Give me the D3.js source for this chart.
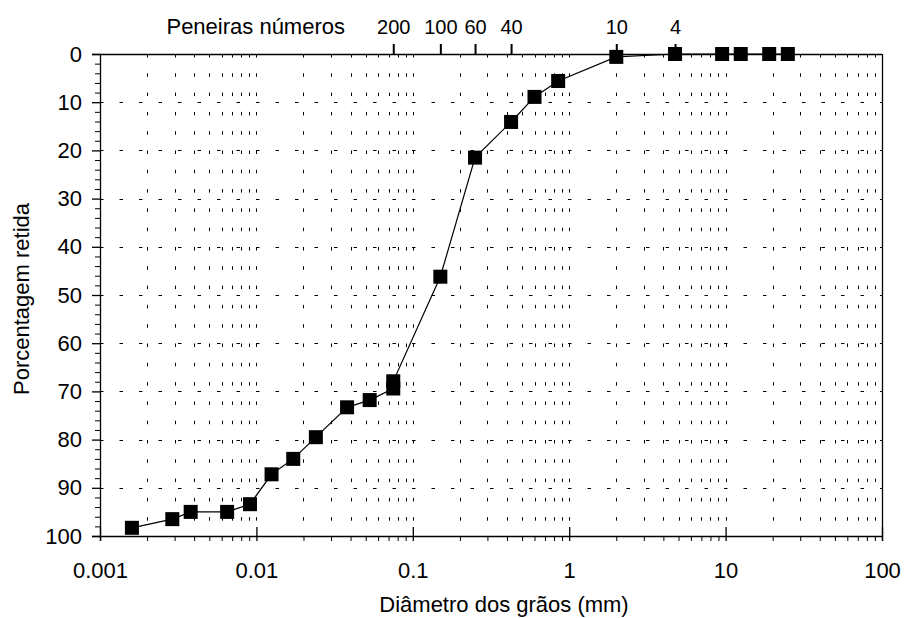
<!DOCTYPE html>
<html>
<head>
<meta charset="utf-8">
<script src="https://cdn.jsdelivr.net/npm/d3@7"></script>
<style>
  html, body { margin: 0; padding: 0; background: #fff; }
  svg { display: block; }
  text { font-family: "Liberation Sans", Arial, sans-serif; fill: #000; }
</style>
</head>
<body>
<svg id="chart" width="904" height="618"></svg>
<script>
// Grain diameter (mm) and percentage retained
const diameters = [0.0016, 0.0029, 0.0038, 0.0065, 0.0091, 0.0125, 0.0172, 0.024, 0.038, 0.053,
                   0.075, 0.075, 0.15, 0.25, 0.425, 0.6, 0.85, 2.0, 4.75, 9.5, 12.5, 19, 25];
const retained  = [98.3, 96.5, 95.0, 95.0, 93.4, 87.2, 84.0, 79.5, 73.3, 71.8,
                   69.4, 67.9, 46.2, 21.5, 14.1, 8.9, 5.6, 0.6, 0, 0, 0, 0, 0];

// Sieve numbers shown on the top axis, with their openings (mm)
const sieveNames    = ["200", "100", "60", "40", "10", "4"];
const sieveOpenings = [0.075, 0.15, 0.25, 0.425, 2.0, 4.75];

const xMajor = [0.001, 0.01, 0.1, 1, 10, 100];
const xTickLabels = ["0.001", "0.01", "0.1", "1", "10", "100"];
const yMajor = [0, 10, 20, 30, 40, 50, 60, 70, 80, 90, 100];

const xTitle = "Diâmetro dos grãos (mm)";
const yTitle = "Porcentagem retida";
const topTitle = "Peneiras números";

const pLeft = 100, pRight = 882, pTop = 54, pBottom = 536;
const fontSize = 22;
const sieveFontSize = 20;
const fontFam = "Liberation Sans, Arial, sans-serif";

const svg = d3.select("#chart");
const x = d3.scaleLog().domain([0.001, 100]).range([pLeft, pRight]);
const y = d3.scaleLinear().domain([0, 100]).range([pTop, pBottom]);

// every 1..9 × 10^k between the decades
const xAll = [];
for (let k = -3; k <= 1; k++) for (let i = 1; i <= 9; i++) xAll.push(+(i * Math.pow(10, k)).toPrecision(3));
xAll.push(100);
const xMinor = xAll.filter(v => !xMajor.includes(v));
const yMinor = d3.range(0, 101, 2).filter(v => v % 10 !== 0);

// dotted vertical grid
svg.append("g").selectAll("line")
  .data(xAll.filter(v => v > 0.001 && v < 100))
  .join("line")
  .attr("x1", d => Math.round(x(d)) + 0.5).attr("x2", d => Math.round(x(d)) + 0.5)
  .attr("y1", pTop).attr("y2", pBottom)
  .attr("stroke", "#000").attr("stroke-width", 1)
  .attr("stroke-dasharray", "3.5 15.8");

// dashed horizontal grid
svg.append("g").selectAll("line")
  .data(yMajor.filter(v => v > 0 && v < 100))
  .join("line")
  .attr("x1", pLeft).attr("x2", pRight)
  .attr("y1", d => Math.round(y(d)) + 0.5).attr("y2", d => Math.round(y(d)) + 0.5)
  .attr("stroke", "#000").attr("stroke-width", 1)
  .attr("stroke-dasharray", "3.5 16");

// frame: top and right lines
svg.append("line").attr("x1", pLeft).attr("x2", pRight).attr("y1", pTop + 0.5).attr("y2", pTop + 0.5)
  .attr("stroke", "#000").attr("stroke-width", 1.3);
svg.append("line").attr("x1", pRight + 0.5).attr("x2", pRight + 0.5).attr("y1", pTop).attr("y2", pBottom)
  .attr("stroke", "#000").attr("stroke-width", 1.3);

// bottom axis
const xAxis = svg.append("g").attr("transform", `translate(0,${pBottom})`)
  .call(d3.axisBottom(x).tickValues(xMajor).tickSize(5).tickPadding(21)
    .tickFormat((d, i) => xTickLabels[i]));
xAxis.select(".domain").attr("stroke-width", 1.3);
xAxis.selectAll(".tick line").attr("y1", -9).attr("y2", 5).attr("stroke-width", 1.3);
xAxis.selectAll(".tick text").attr("font-size", fontSize).attr("font-family", fontFam);
svg.append("g").attr("transform", `translate(0,${pBottom})`)
  .call(d3.axisBottom(x).tickValues(xMinor).tickSize(5).tickFormat(""))
  .call(g => g.select(".domain").remove());

// left axis
const yAxis = svg.append("g").attr("transform", `translate(${pLeft},0)`)
  .call(d3.axisLeft(y).tickValues(yMajor).tickSize(8).tickPadding(10).tickFormat(d3.format("d")));
yAxis.select(".domain").attr("stroke-width", 1.3);
yAxis.selectAll(".tick line").attr("stroke-width", 1.3);
yAxis.selectAll(".tick text").attr("font-size", fontSize).attr("font-family", fontFam);
svg.append("g").attr("transform", `translate(${pLeft},0)`)
  .call(d3.axisLeft(y).tickValues(yMinor).tickSize(5).tickFormat(""))
  .call(g => g.select(".domain").remove());

// top axis: sieve numbers
const topAxis = svg.append("g").attr("transform", `translate(0,${pTop})`)
  .call(d3.axisTop(x).tickValues(sieveOpenings).tickSize(10).tickPadding(10)
    .tickFormat((d, i) => sieveNames[i]));
topAxis.select(".domain").remove();
topAxis.selectAll(".tick line").attr("stroke-width", 2);
topAxis.selectAll(".tick text").attr("font-size", sieveFontSize).attr("font-family", fontFam);

svg.append("text").attr("x", 345).attr("y", 34).attr("text-anchor", "end")
  .attr("font-size", fontSize).text(topTitle);

// axis titles
svg.append("text").attr("x", 504).attr("y", 612).attr("text-anchor", "middle")
  .attr("font-size", fontSize).text(xTitle);
svg.append("text").attr("transform", `translate(28.5,${(pTop + pBottom) / 2 + 4}) rotate(-90)`)
  .attr("text-anchor", "middle").attr("font-size", fontSize).text(yTitle);

// curve
const pts = diameters.map((d, i) => [d, retained[i]]);
svg.append("path").datum(pts)
  .attr("fill", "none").attr("stroke", "#000").attr("stroke-width", 1.2)
  .attr("d", d3.line().x(d => x(d[0])).y(d => y(d[1])));

const ms = 14;
svg.append("g").selectAll("rect").data(pts).join("rect")
  .attr("x", d => x(d[0]) - ms / 2).attr("y", d => y(d[1]) - ms / 2)
  .attr("width", ms).attr("height", ms).attr("fill", "#000");
</script>
</body>
</html>
